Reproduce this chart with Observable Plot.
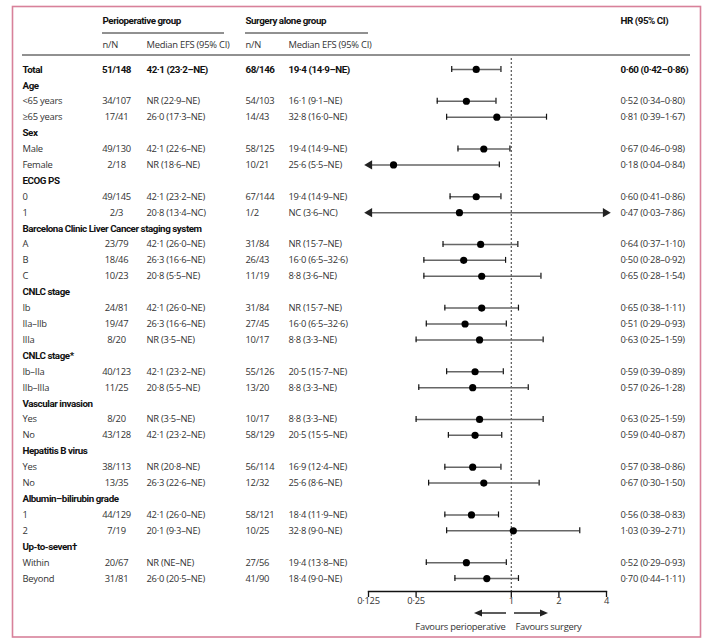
<!DOCTYPE html>
<html><head><meta charset="utf-8">
<script src="https://cdn.jsdelivr.net/npm/d3@7"></script>
<script src="https://cdn.jsdelivr.net/npm/@observablehq/plot@0.6"></script>
<style>
body{margin:0;background:#fff}
#chart svg{display:block}
#chart svg g[font-weight="bold"]{letter-spacing:-0.45px}
</style>
</head><body><div id="chart"></div>
<script>
// ---- data ----
const labels = ["Total","Age","<65 years","≥65 years","Sex","Male","Female","ECOG PS","0","1",
  "Barcelona Clinic Liver Cancer staging system","A","B","C","CNLC stage","Ib","IIa–IIb","IIIa",
  "CNLC stage*","Ib–IIa","IIb–IIIa","Vascular invasion","Yes","No","Hepatitis B virus","Yes","No",
  "Albumin–bilirubin grade","1","2","Up-to-seven†","Within","Beyond"];
const kinds = ["total","group","sub","sub","group","sub","sub","group","sub","sub",
  "group","sub","sub","sub","group","sub","sub","sub",
  "group","sub","sub","group","sub","sub","group","sub","sub",
  "group","sub","sub","group","sub","sub"];
const nPeri = ["51/148","","34/107","17/41","","49/130","2/18","","49/145","2/3",
  "","23/79","18/46","10/23","","24/81","19/47","8/20",
  "","40/123","11/25","","8/20","43/128","","38/113","13/35",
  "","44/129","7/19","","20/67","31/81"];
const medPeri = ["42·1 (23·2–NE)","","NR (22·9–NE)","26·0 (17·3–NE)","","42·1 (22·6–NE)","NR (18·6–NE)","","42·1 (23·2–NE)","20·8 (13·4–NC)",
  "","42·1 (26·0–NE)","26·3 (16·6–NE)","20·8 (5·5–NE)","","42·1 (26·0–NE)","26·3 (16·6–NE)","NR (3·5–NE)",
  "","42·1 (23·2–NE)","20·8 (5·5–NE)","","NR (3·5–NE)","42·1 (23·2–NE)","","NR (20·8–NE)","26·3 (22·6–NE)",
  "","42·1 (26·0–NE)","20·1 (9·3–NE)","","NR (NE–NE)","26·0 (20·5–NE)"];
const nSurg = ["68/146","","54/103","14/43","","58/125","10/21","","67/144","1/2",
  "","31/84","26/43","11/19","","31/84","27/45","10/17",
  "","55/126","13/20","","10/17","58/129","","56/114","12/32",
  "","58/121","10/25","","27/56","41/90"];
const medSurg = ["19·4 (14·9–NE)","","16·1 (9·1–NE)","32·8 (16·0–NE)","","19·4 (14·9–NE)","25·6 (5·5–NE)","","19·4 (14·9–NE)","NC (3·6–NC)",
  "","NR (15·7–NE)","16·0 (6·5–32·6)","8·8 (3·6–NE)","","NR (15·7–NE)","16·0 (6·5–32·6)","8·8 (3·3–NE)",
  "","20·5 (15·7–NE)","8·8 (3·3–NE)","","8·8 (3·3–NE)","20·5 (15·5–NE)","","16·9 (12·4–NE)","25·6 (8·6–NE)",
  "","18·4 (11·9–NE)","32·8 (9·0–NE)","","19·4 (13·8–NE)","18·4 (9·0–NE)"];
const hr = [0.60,null,0.52,0.81,null,0.67,0.18,null,0.60,0.47,
  null,0.64,0.50,0.65,null,0.65,0.51,0.63,
  null,0.59,0.57,null,0.63,0.59,null,0.57,0.67,
  null,0.56,1.03,null,0.52,0.70];
const lo = [0.42,null,0.34,0.39,null,0.46,0.04,null,0.41,0.03,
  null,0.37,0.28,0.28,null,0.38,0.29,0.25,
  null,0.39,0.26,null,0.25,0.40,null,0.38,0.30,
  null,0.38,0.39,null,0.29,0.44];
const hi = [0.86,null,0.80,1.67,null,0.98,0.84,null,0.86,7.86,
  null,1.10,0.92,1.54,null,1.11,0.93,1.59,
  null,0.89,1.28,null,1.59,0.87,null,0.86,1.50,
  null,0.83,2.71,null,0.93,1.11];
const xTicks = [0.125, 0.25, 1, 2, 4];
const xDomain = [0.125, 4];
const headTop = ["Perioperative group", "Surgery alone group", "HR (95% CI)"];
const headSub = ["n/N", "Median EFS (95% CI)", "n/N", "Median EFS (95% CI)"];
const favours = ["Favours perioperative", "Favours surgery"];

// ---- build ----
const fmt = v => v.toFixed(2).replace(".", "·");
const rows = labels.map((label, i) => ({
  id: i, label, kind: kinds[i], nPeri: nPeri[i], medPeri: medPeri[i], nSurg: nSurg[i], medSurg: medSurg[i],
  hr: hr[i], lo: lo[i], hi: hi[i],
  hrText: hr[i] == null ? "" : `${fmt(hr[i])} (${fmt(lo[i])}–${fmt(hi[i])})`
}));
const ci = rows.filter(d => d.hr != null);
const [xmin, xmax] = xDomain;

const W = 708, H = 642;
const mL = 368, mR = 102, mT = 58, mB = 51;
const FONT = "'Open Sans',sans-serif";
const BFONT = "Roboto,'Open Sans',sans-serif";
const FS = 9.4, BFS = 9.8;
const colX = {label: 22, nPeri: 116, medPeri: 146, nSurg: 245, medSurg: 288, hr: 620};
const bold = d => d.kind !== "sub";

function col(data, key, x, anchor, weight) {
  const b = weight === "bold";
  return Plot.text(data, {y: "id", text: key, frameAnchor: "left", dx: x - mL, textAnchor: anchor,
    fontWeight: weight, fontFamily: b ? BFONT : FONT, fill: b ? "#111" : "#333", fontSize: b ? BFS : FS});
}
function head(str, x, y, anchor = "start", weight = "normal") {
  const b = weight === "bold";
  return Plot.text([str], {text: d => d, frameAnchor: "top-left", dx: x - mL, dy: y - mT,
    lineAnchor: "middle", textAnchor: anchor, fontWeight: weight, fontFamily: b ? BFONT : FONT,
    fill: b ? "#111" : "#333", fontSize: b ? BFS : FS});
}
const boldRows = rows.filter(bold), subRows = rows.filter(d => !bold(d));
const totalRows = rows.filter(d => d.kind === "total");

const plot = Plot.plot({
  width: W, height: H,
  marginLeft: mL, marginRight: mR, marginTop: mT, marginBottom: mB,
  style: {fontFamily: FONT, fontSize: FS + "px", color: "#222", background: "#fff", letterSpacing: "-0.25px"},
  x: {type: "log", domain: xDomain},
  y: {type: "band", domain: rows.map(d => d.id), range: [61, 586], padding: 0, round: false, axis: null},
  marks: [
    Plot.ruleX([1], {stroke: "#555", strokeWidth: 1.2, strokeDasharray: "2,2"}),
    Plot.frame({anchor: "bottom", stroke: "#111", strokeWidth: 1.3}),
    Plot.axisX({ticks: xTicks, tickFormat: d => String(d).replace(".", "·"), tickSize: 6, tickPadding: 0,
      stroke: "#111", strokeWidth: 1.3, fill: "#333", fontSize: FS, label: null}),
    Plot.ruleY(ci, {y: "id", x1: d => Math.max(d.lo, xmin), x2: d => Math.min(d.hi, xmax), stroke: "#666", strokeWidth: 1.5}),
    Plot.tickX(ci.filter(d => d.lo >= xmin), {x: "lo", y: "id", insetTop: 5, insetBottom: 5, stroke: "#111", strokeWidth: 1.2}),
    Plot.tickX(ci.filter(d => d.hi <= xmax), {x: "hi", y: "id", insetTop: 5, insetBottom: 5, stroke: "#111", strokeWidth: 1.2}),
    Plot.dot(ci.filter(d => d.lo < xmin), {x: () => xmin, y: "id", symbol: "triangle", rotate: -90, r: 3.4, fill: "#222", dx: 1}),
    Plot.dot(ci.filter(d => d.hi > xmax), {x: () => xmax, y: "id", symbol: "triangle", rotate: 90, r: 3.4, fill: "#222", dx: -1}),
    Plot.dot(ci, {x: "hr", y: "id", r: 3.6, fill: "#000"}),
    // table columns
    col(boldRows, "label", colX.label, "start", "bold"),
    col(subRows, "label", colX.label, "start", "normal"),
    col(totalRows, "nPeri", colX.nPeri, "middle", "bold"),
    col(subRows, "nPeri", colX.nPeri, "middle", "normal"),
    col(totalRows, "medPeri", colX.medPeri, "start", "bold"),
    col(subRows, "medPeri", colX.medPeri, "start", "normal"),
    col(totalRows, "nSurg", colX.nSurg, "start", "bold"),
    col(subRows, "nSurg", colX.nSurg, "start", "normal"),
    col(totalRows, "medSurg", colX.medSurg, "start", "bold"),
    col(subRows, "medSurg", colX.medSurg, "start", "normal"),
    col(totalRows, "hrText", colX.hr, "start", "bold"),
    col(subRows, "hrText", colX.hr, "start", "normal"),
    // headers
    head(headTop[0], 102, 20, "start", "bold"),
    head(headTop[1], 245, 20, "start", "bold"),
    head(headTop[2], 620, 20, "start", "bold"),
    head(headSub[0], 102, 44), head(headSub[1], 146, 44),
    head(headSub[2], 245, 44), head(headSub[3], 288, 44),
    head(favours[0], 505, 626, "end"),
    head(favours[1], 515, 626, "start")
  ]
});

// decorative frame lines and direction arrows
const svg = d3.select(plot);
const deco = svg.append("g");
deco.append("rect").attr("x", 12.5).attr("y", 6.5).attr("width", 688).attr("height", 630.5)
  .attr("fill", "none").attr("stroke", "#d8819a").attr("stroke-width", 1.6);
[[102, 224, 33], [245, 368, 33], [22, 690, 55]].forEach(([a, b, y]) =>
  deco.append("line").attr("x1", a).attr("x2", b).attr("y1", y).attr("y2", y).attr("stroke", "#222").attr("stroke-width", 1));
function arrow(x0, x1, y) {
  const dir = Math.sign(x1 - x0);
  deco.append("line").attr("x1", x0).attr("x2", x1 - dir * 7).attr("y1", y).attr("y2", y).attr("stroke", "#333").attr("stroke-width", 1.6);
  deco.append("path").attr("d", `M${x1},${y}L${x1 - dir * 8},${y - 3.5}L${x1 - dir * 8},${y + 3.5}Z`).attr("fill", "#222");
}
arrow(506, 474, 613);
arrow(514, 548, 613);
document.getElementById("chart").appendChild(plot);
</script>
</body></html>
